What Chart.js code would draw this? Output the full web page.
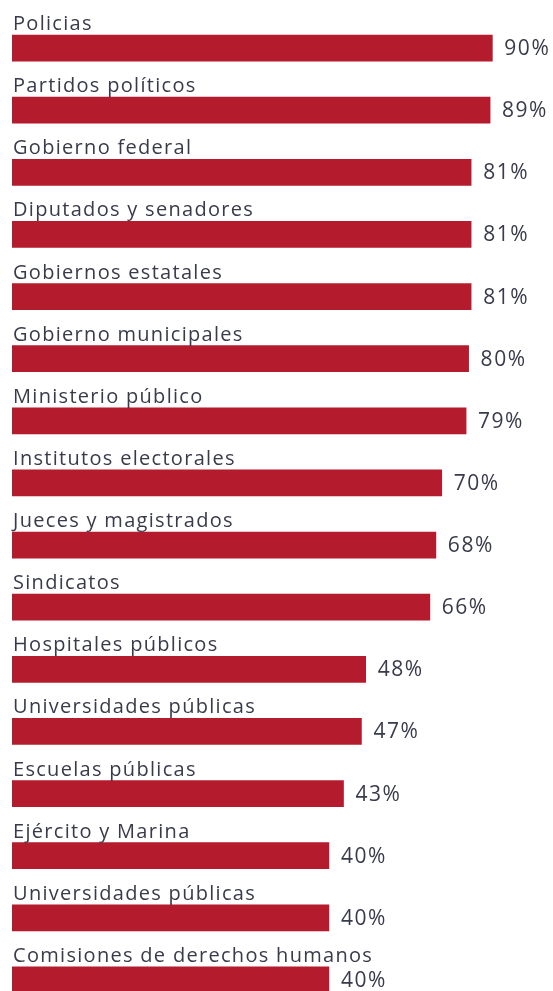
<!DOCTYPE html>
<html>
<head>
<meta charset="utf-8">
<script src="https://cdn.jsdelivr.net/npm/chart.js@4"></script>
<style>
  html, body { margin: 0; padding: 0; background: #fff; overflow: hidden; }
  #wrap { width: 553px; height: 1011px; }
</style>
</head>
<body>
<div id="wrap"><canvas id="trustChart" width="553" height="1011"></canvas></div>
<script>
const categories = [
  "Policias",
  "Partidos políticos",
  "Gobierno federal",
  "Diputados y senadores",
  "Gobiernos estatales",
  "Gobierno municipales",
  "Ministerio público",
  "Institutos electorales",
  "Jueces y magistrados",
  "Sindicatos",
  "Hospitales públicos",
  "Universidades públicas",
  "Escuelas públicas",
  "Ejército y Marina",
  "Universidades públicas",
  "Comisiones de derechos humanos"
];
const values = [90, 89, 81, 81, 81, 80, 79, 70, 68, 66, 48, 47, 43, 40, 40, 40];

const textColor = "#393b4b";
const barColor = "#b41b2d";
const fontFamily = "'Open Sans', sans-serif";

// labels above each bar and the percentage to the right of it
const barLabels = {
  id: "barLabels",
  afterDatasetsDraw(chart) {
    const ctx = chart.ctx;
    const meta = chart.getDatasetMeta(0);
    ctx.save();
    ctx.fillStyle = textColor;
    meta.data.forEach((bar, i) => {
      const top = bar.y - bar.height / 2;
      ctx.font = "20px " + fontFamily;
      ctx.letterSpacing = "1.3px";
      ctx.textAlign = "left";
      ctx.textBaseline = "alphabetic";
      ctx.fillText(categories[i], 13, top - 5);

      ctx.font = "21px " + fontFamily;
      ctx.letterSpacing = "1.5px";
      ctx.textBaseline = "middle";
      ctx.fillText(values[i] + "%", bar.x + 12, bar.y + 1);
    });
    ctx.restore();
  },
};

new Chart(document.getElementById("trustChart").getContext("2d"), {
  type: "bar",
  data: {
    labels: categories,
    datasets: [
      {
        data: values,
        backgroundColor: barColor,
        borderWidth: 0,
        borderSkipped: false,
        barThickness: 26,
      },
    ],
  },
  options: {
    indexAxis: "y",
    responsive: false,
    animation: false,
    devicePixelRatio: 1,
    layout: { padding: { left: 12, right: 13, top: 17, bottom: 0 } },
    plugins: {
      legend: { display: false },
      tooltip: { enabled: false },
    },
    scales: {
      x: {
        type: "logarithmic",
        min: 8.3,
        max: 114,
        bounds: "data",
        display: false,
      },
      y: {
        display: false,
        offset: true,
      },
    },
  },
  plugins: [barLabels],
});
</script>
</body>
</html>
